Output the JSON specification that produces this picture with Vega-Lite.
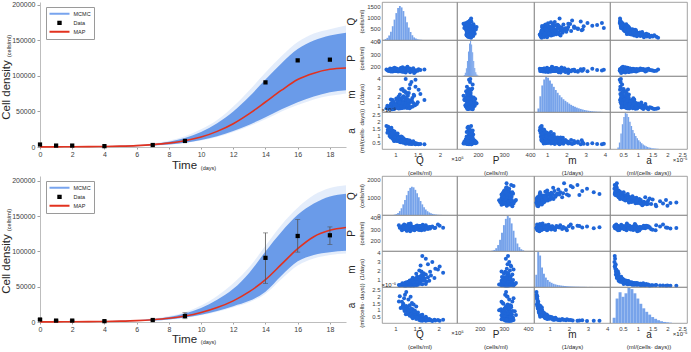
{
"$schema": "https://vega.github.io/schema/vega-lite/v6.json",
"padding": 0,
"background": "white",
"spacing": -1,
"config": {
  "font": "Liberation Sans",
  "view": {"stroke": "#8a8a8a", "strokeWidth": 0.8},
  "axis": {"labelFont": "Liberation Sans", "titleFont": "Liberation Sans", "labelColor": "#404040", "titleColor": "#262626", "titleFontWeight": "normal", "grid": false, "labelFlush": false, "labelOverlap": false},
  "legend": {"labelFont": "Liberation Sans"},
  "circle": {"size": 16, "color": "#1f66d8", "opacity": 1}
},
"resolve": {"scale": {"color": "independent", "shape": "independent", "x": "independent", "y": "independent"}, "legend": {"color": "independent", "shape": "independent"}},
"datasets": {
  "keys": [{"s": "MCMC"}, {"s": "Data"}, {"s": "MAP"}],
  "obs": [
    {"t": 0, "y": 3500, "lo": 2500, "hi": 4500},
    {"t": 1, "y": 2000, "lo": 1300, "hi": 2700},
    {"t": 2, "y": 2000, "lo": 1300, "hi": 2700},
    {"t": 4, "y": 1200, "lo": 700, "hi": 1700},
    {"t": 7, "y": 2800, "lo": 2000, "hi": 3600},
    {"t": 9, "y": 8500, "lo": 4700, "hi": 13200},
    {"t": 14, "y": 91000, "lo": 54800, "hi": 126400},
    {"t": 16, "y": 122000, "lo": 99100, "hi": 145400},
    {"t": 18, "y": 123000, "lo": 110000, "hi": 134900}
  ],
  "map1": [
    {"t": 0, "y": 150}, {"t": 1, "y": 220}, {"t": 2, "y": 330}, {"t": 3, "y": 500}, {"t": 4, "y": 780},
    {"t": 5, "y": 1250}, {"t": 6, "y": 2000}, {"t": 7, "y": 3300}, {"t": 8, "y": 5400}, {"t": 9, "y": 8800},
    {"t": 10, "y": 14000}, {"t": 11, "y": 22000}, {"t": 12, "y": 32800}, {"t": 13, "y": 47000}, {"t": 14, "y": 63400},
    {"t": 15, "y": 80000}, {"t": 16, "y": 95000}, {"t": 17, "y": 104000}, {"t": 18, "y": 109400}, {"t": 19, "y": 111300}
  ],
  "map2": [
    {"t": 0, "y": 150}, {"t": 1, "y": 220}, {"t": 2, "y": 330}, {"t": 3, "y": 500}, {"t": 4, "y": 780},
    {"t": 5, "y": 1250}, {"t": 6, "y": 2000}, {"t": 7, "y": 3300}, {"t": 8, "y": 5300}, {"t": 9, "y": 8500},
    {"t": 10, "y": 13500}, {"t": 11, "y": 20500}, {"t": 12, "y": 30000}, {"t": 13, "y": 43000}, {"t": 14, "y": 60000},
    {"t": 15, "y": 82000}, {"t": 16, "y": 104000}, {"t": 17, "y": 121000}, {"t": 18, "y": 130000}, {"t": 19, "y": 134000}
  ],
  "band1": [
    {"t": 0, "lo": 0, "hi": 400, "lo2": 0, "hi2": 500},
    {"t": 1, "lo": 80, "hi": 550, "lo2": 60, "hi2": 650},
    {"t": 2, "lo": 150, "hi": 700, "lo2": 120, "hi2": 800},
    {"t": 3, "lo": 300, "hi": 900, "lo2": 250, "hi2": 1050},
    {"t": 4, "lo": 450, "hi": 1200, "lo2": 400, "hi2": 1400},
    {"t": 5, "lo": 750, "hi": 1700, "lo2": 650, "hi2": 2000},
    {"t": 6, "lo": 1200, "hi": 2600, "lo2": 1100, "hi2": 3000},
    {"t": 7, "lo": 2000, "hi": 4300, "lo2": 1800, "hi2": 5000},
    {"t": 8, "lo": 3500, "hi": 7500, "lo2": 3200, "hi2": 8800},
    {"t": 9, "lo": 6000, "hi": 12500, "lo2": 5500, "hi2": 15000},
    {"t": 10, "lo": 9800, "hi": 21000, "lo2": 9000, "hi2": 25000},
    {"t": 11, "lo": 15000, "hi": 33500, "lo2": 14000, "hi2": 38000},
    {"t": 12, "lo": 22500, "hi": 50000, "lo2": 21000, "hi2": 57000},
    {"t": 13, "lo": 31500, "hi": 71000, "lo2": 29500, "hi2": 80000},
    {"t": 14, "lo": 42000, "hi": 95000, "lo2": 39000, "hi2": 105000},
    {"t": 15, "lo": 53000, "hi": 118000, "lo2": 50000, "hi2": 128000},
    {"t": 16, "lo": 63000, "hi": 138000, "lo2": 59000, "hi2": 148000},
    {"t": 17, "lo": 71000, "hi": 150000, "lo2": 67000, "hi2": 160000},
    {"t": 18, "lo": 77000, "hi": 157000, "lo2": 72000, "hi2": 166000},
    {"t": 19, "lo": 80000, "hi": 161000, "lo2": 75500, "hi2": 171000}
  ],
  "band2": [
    {"t": 0, "lo": 0, "hi": 400, "lo2": 0, "hi2": 500},
    {"t": 1, "lo": 80, "hi": 550, "lo2": 60, "hi2": 650},
    {"t": 2, "lo": 150, "hi": 700, "lo2": 120, "hi2": 800},
    {"t": 3, "lo": 300, "hi": 900, "lo2": 250, "hi2": 1050},
    {"t": 4, "lo": 450, "hi": 1200, "lo2": 400, "hi2": 1400},
    {"t": 5, "lo": 750, "hi": 1700, "lo2": 650, "hi2": 2000},
    {"t": 6, "lo": 1250, "hi": 2600, "lo2": 1100, "hi2": 3000},
    {"t": 7, "lo": 2100, "hi": 4300, "lo2": 1900, "hi2": 5000},
    {"t": 8, "lo": 3700, "hi": 7200, "lo2": 3300, "hi2": 8500},
    {"t": 9, "lo": 6300, "hi": 12000, "lo2": 5800, "hi2": 14000},
    {"t": 10, "lo": 10200, "hi": 20000, "lo2": 9500, "hi2": 23500},
    {"t": 11, "lo": 15500, "hi": 31500, "lo2": 14500, "hi2": 37000},
    {"t": 12, "lo": 22500, "hi": 47000, "lo2": 21000, "hi2": 55000},
    {"t": 13, "lo": 30000, "hi": 70000, "lo2": 28000, "hi2": 78000},
    {"t": 14, "lo": 43000, "hi": 100000, "lo2": 40000, "hi2": 108000},
    {"t": 15, "lo": 66000, "hi": 128000, "lo2": 61000, "hi2": 138000},
    {"t": 16, "lo": 86000, "hi": 152000, "lo2": 80000, "hi2": 162000},
    {"t": 17, "lo": 95000, "hi": 168000, "lo2": 90000, "hi2": 180000},
    {"t": 18, "lo": 99000, "hi": 178000, "lo2": 95000, "hi2": 190000},
    {"t": 19, "lo": 101000, "hi": 182000, "lo2": 97000, "hi2": 194000}
  ],
  "s1": [
    {"Q":1.38,"P":165,"m":1.85,"a":0.42},{"Q":1.30,"P":172,"m":2.40,"a":0.45},{"Q":1.45,"P":158,"m":3.10,"a":0.40},{"Q":1.25,"P":181,"m":1.30,"a":0.48},
    {"Q":1.22,"P":169,"m":1.10,"a":0.52},{"Q":1.52,"P":175,"m":2.75,"a":0.39},{"Q":1.33,"P":150,"m":1.60,"a":0.44},{"Q":1.18,"P":163,"m":2.05,"a":0.50},
    {"Q":1.28,"P":177,"m":0.95,"a":0.47},{"Q":1.36,"P":170,"m":3.60,"a":0.41},{"Q":1.12,"P":186,"m":1.45,"a":0.53},{"Q":1.41,"P":161,"m":2.20,"a":0.46},
    {"Q":1.48,"P":167,"m":1.20,"a":0.43},{"Q":1.21,"P":155,"m":2.60,"a":0.49},{"Q":1.35,"P":173,"m":0.88,"a":0.51},{"Q":1.45,"P":166,"m":3.85,"a":0.38},
    {"Q":1.26,"P":190,"m":1.75,"a":0.45},{"Q":1.15,"P":160,"m":1.35,"a":0.54},{"Q":1.31,"P":178,"m":2.90,"a":0.42},{"Q":1.44,"P":152,"m":1.05,"a":0.48},
    {"Q":1.56,"P":169,"m":2.30,"a":0.40},{"Q":1.19,"P":184,"m":1.90,"a":0.52},{"Q":1.37,"P":164,"m":1.55,"a":0.47},{"Q":1.29,"P":171,"m":0.82,"a":0.44},
    {"Q":1.24,"P":158,"m":2.45,"a":0.50},{"Q":1.10,"P":176,"m":1.15,"a":0.55},{"Q":1.50,"P":162,"m":1.40,"a":0.41},{"Q":1.33,"P":180,"m":3.35,"a":0.46},
    {"Q":1.20,"P":168,"m":0.98,"a":0.53},{"Q":1.42,"P":145,"m":2.10,"a":0.43},{"Q":1.65,"P":174,"m":1.65,"a":0.39},{"Q":1.27,"P":195,"m":1.25,"a":0.49},
    {"Q":1.16,"P":166,"m":2.85,"a":0.51},{"Q":1.39,"P":159,"m":0.92,"a":0.45},{"Q":1.23,"P":171,"m":3.95,"a":0.42},{"Q":1.13,"P":163,"m":1.70,"a":0.54},
    {"Q":1.18,"P":170,"m":1.20,"a":0.58},{"Q":1.08,"P":165,"m":0.95,"a":0.62},{"Q":1.22,"P":178,"m":1.55,"a":0.60},{"Q":1.14,"P":158,"m":1.05,"a":0.65},
    {"Q":1.28,"P":173,"m":2.10,"a":0.57},{"Q":1.05,"P":167,"m":0.85,"a":0.68},{"Q":1.31,"P":182,"m":1.35,"a":0.63},{"Q":1.11,"P":161,"m":1.10,"a":0.70},
    {"Q":1.20,"P":176,"m":0.78,"a":0.59},{"Q":1.02,"P":169,"m":1.80,"a":0.66},{"Q":1.16,"P":154,"m":0.92,"a":0.72},{"Q":1.24,"P":171,"m":2.40,"a":0.61},
    {"Q":0.98,"P":188,"m":1.00,"a":0.64},{"Q":1.09,"P":164,"m":1.25,"a":0.75},{"Q":1.35,"P":160,"m":1.45,"a":0.56},{"Q":1.26,"P":175,"m":0.75,"a":0.69},
    {"Q":1.04,"P":168,"m":1.60,"a":0.73},{"Q":1.12,"P":179,"m":0.88,"a":0.58},{"Q":1.19,"P":157,"m":1.15,"a":0.67},{"Q":1.07,"P":172,"m":2.00,"a":0.62},
    {"Q":1.01,"P":166,"m":0.98,"a":0.78},{"Q":1.40,"P":183,"m":1.30,"a":0.60},{"Q":0.96,"P":162,"m":1.40,"a":0.71},{"Q":1.15,"P":170,"m":0.80,"a":0.65},
    {"Q":1.23,"P":148,"m":1.70,"a":0.57},{"Q":1.13,"P":177,"m":1.08,"a":0.74},{"Q":1.06,"P":165,"m":0.72,"a":0.63},{"Q":1.10,"P":159,"m":2.25,"a":0.69},
    {"Q":0.99,"P":174,"m":0.90,"a":0.76},{"Q":1.30,"P":167,"m":1.12,"a":0.59},{"Q":1.17,"P":185,"m":1.50,"a":0.66},{"Q":1.03,"P":163,"m":0.84,"a":0.61},
    {"Q":1.21,"P":171,"m":1.22,"a":0.72},{"Q":0.94,"P":156,"m":1.65,"a":0.79},{"Q":1.25,"P":180,"m":0.96,"a":0.56},{"Q":1.14,"P":168,"m":1.85,"a":0.64},
    {"Q":1.08,"P":173,"m":0.70,"a":0.70},{"Q":1.19,"P":161,"m":2.60,"a":0.58},{"Q":1.27,"P":176,"m":1.02,"a":0.67},{"Q":1.05,"P":164,"m":1.32,"a":0.77},
    {"Q":0.97,"P":170,"m":1.18,"a":0.62},{"Q":1.22,"P":153,"m":1.95,"a":0.68},{"Q":1.12,"P":179,"m":0.82,"a":0.74},{"Q":1.09,"P":166,"m":1.42,"a":0.60},
    {"Q":1.32,"P":172,"m":0.74,"a":0.65},{"Q":1.00,"P":160,"m":1.05,"a":0.71},{"Q":1.16,"P":192,"m":1.28,"a":0.57},{"Q":1.07,"P":169,"m":1.12,"a":0.80},
    {"Q":1.29,"P":175,"m":1.62,"a":0.63},{"Q":1.11,"P":158,"m":0.94,"a":0.69},{"Q":0.95,"P":167,"m":1.48,"a":0.75},{"Q":1.20,"P":174,"m":1.00,"a":0.59},
    {"Q":1.13,"P":163,"m":2.80,"a":0.66},{"Q":1.02,"P":181,"m":1.20,"a":0.73},
    {"Q":1.02,"P":168,"m":1.00,"a":0.84},{"Q":0.96,"P":175,"m":0.80,"a":0.88},{"Q":1.08,"P":161,"m":1.30,"a":0.92},{"Q":1.12,"P":170,"m":0.72,"a":0.82},
    {"Q":0.92,"P":178,"m":1.10,"a":0.95},{"Q":1.04,"P":163,"m":1.55,"a":0.86},{"Q":0.99,"P":172,"m":0.88,"a":0.99},{"Q":1.15,"P":159,"m":0.76,"a":0.90},
    {"Q":0.94,"P":180,"m":1.20,"a":0.83},{"Q":1.01,"P":166,"m":0.95,"a":1.02},{"Q":0.90,"P":173,"m":1.70,"a":0.87},{"Q":1.06,"P":157,"m":0.82,"a":0.94},
    {"Q":0.97,"P":169,"m":1.05,"a":1.05},{"Q":1.18,"P":176,"m":0.92,"a":0.81},{"Q":0.93,"P":164,"m":0.70,"a":0.97},{"Q":1.10,"P":171,"m":1.40,"a":0.89},
    {"Q":0.88,"P":182,"m":0.85,"a":1.08},{"Q":1.00,"P":160,"m":1.12,"a":0.85},{"Q":1.13,"P":168,"m":0.98,"a":0.93},{"Q":0.91,"P":174,"m":1.25,"a":1.00},
    {"Q":0.98,"P":165,"m":0.68,"a":0.91},{"Q":1.03,"P":178,"m":1.00,"a":1.06},{"Q":1.07,"P":162,"m":1.82,"a":0.84},{"Q":0.87,"P":170,"m":0.78,"a":0.96},
    {"Q":0.95,"P":167,"m":1.15,"a":1.03},
    {"Q":0.92,"P":171,"m":0.80,"a":1.15},{"Q":0.88,"P":166,"m":0.95,"a":1.22},{"Q":1.00,"P":175,"m":1.10,"a":1.12},{"Q":0.85,"P":162,"m":0.72,"a":1.30},
    {"Q":0.96,"P":178,"m":0.66,"a":1.18},{"Q":0.83,"P":169,"m":0.85,"a":1.40},{"Q":0.90,"P":157,"m":1.20,"a":1.25},{"Q":1.05,"P":173,"m":0.75,"a":1.14},
    {"Q":0.86,"P":165,"m":0.70,"a":1.50},{"Q":0.94,"P":180,"m":0.62,"a":1.35},{"Q":0.82,"P":170,"m":1.00,"a":1.20},{"Q":0.84,"P":163,"m":0.68,"a":1.62},
    {"Q":0.98,"P":176,"m":0.88,"a":1.28},{"Q":0.89,"P":168,"m":0.78,"a":1.45},{"Q":0.93,"P":172,"m":1.35,"a":1.11},{"Q":0.91,"P":160,"m":0.64,"a":1.55},
    {"Q":0.80,"P":174,"m":0.72,"a":1.68}
  ],
  "s2": [
    {"Q":1.22,"P":305,"m":0.32,"a":2.10},{"Q":1.30,"P":322,"m":0.35,"a":1.75},{"Q":1.18,"P":298,"m":0.38,"a":1.45},{"Q":1.35,"P":315,"m":0.33,"a":1.95},
    {"Q":1.28,"P":330,"m":0.40,"a":1.20},{"Q":1.15,"P":290,"m":0.36,"a":1.60},{"Q":1.40,"P":318,"m":0.42,"a":1.05},{"Q":1.25,"P":309,"m":0.31,"a":2.30},
    {"Q":1.33,"P":326,"m":0.39,"a":1.35},{"Q":1.45,"P":301,"m":0.44,"a":0.95},{"Q":1.20,"P":340,"m":0.34,"a":1.85},{"Q":1.12,"P":312,"m":0.41,"a":1.15},
    {"Q":1.38,"P":295,"m":0.37,"a":1.50},{"Q":1.30,"P":320,"m":0.43,"a":0.88},{"Q":1.48,"P":308,"m":0.36,"a":1.25},{"Q":1.08,"P":335,"m":0.40,"a":1.62},
    {"Q":1.26,"P":285,"m":0.45,"a":1.00},{"Q":1.42,"P":316,"m":0.33,"a":1.40},{"Q":1.36,"P":303,"m":0.38,"a":1.10},{"Q":1.17,"P":328,"m":0.42,"a":1.30},
    {"Q":1.10,"P":312,"m":0.35,"a":2.00},{"Q":1.52,"P":297,"m":0.44,"a":0.82},
    {"Q":1.24,"P":310,"m":0.48,"a":1.20},{"Q":1.35,"P":325,"m":0.52,"a":0.95},{"Q":1.42,"P":300,"m":0.47,"a":0.78},{"Q":1.28,"P":318,"m":0.55,"a":1.10},
    {"Q":1.50,"P":332,"m":0.50,"a":0.70},{"Q":1.33,"P":292,"m":0.58,"a":0.85},{"Q":1.19,"P":314,"m":0.46,"a":1.35},{"Q":1.46,"P":306,"m":0.62,"a":0.75},
    {"Q":1.58,"P":321,"m":0.53,"a":0.62},{"Q":1.30,"P":345,"m":0.49,"a":0.90},{"Q":1.22,"P":298,"m":0.60,"a":1.00},{"Q":1.40,"P":311,"m":0.56,"a":0.68},
    {"Q":1.36,"P":327,"m":0.66,"a":0.72},{"Q":1.27,"P":288,"m":0.51,"a":1.05},{"Q":1.48,"P":319,"m":0.47,"a":0.80},{"Q":1.55,"P":304,"m":0.64,"a":0.58},
    {"Q":1.21,"P":336,"m":0.57,"a":0.92},{"Q":1.43,"P":313,"m":0.69,"a":0.65},{"Q":1.32,"P":296,"m":0.54,"a":0.76},{"Q":1.16,"P":323,"m":0.59,"a":1.18},
    {"Q":1.62,"P":309,"m":0.48,"a":0.66},{"Q":1.38,"P":317,"m":0.62,"a":0.88},{"Q":1.50,"P":302,"m":0.67,"a":0.55},{"Q":1.25,"P":330,"m":0.52,"a":1.28},
    {"Q":1.45,"P":315,"m":0.58,"a":0.60},{"Q":1.34,"P":280,"m":0.46,"a":0.98},{"Q":1.29,"P":322,"m":0.65,"a":0.82},{"Q":1.37,"P":308,"m":0.55,"a":0.73},
    {"Q":1.70,"P":326,"m":0.50,"a":0.52},{"Q":1.31,"P":299,"m":0.61,"a":0.95},{"Q":1.24,"P":318,"m":0.68,"a":0.70},{"Q":1.44,"P":311,"m":0.49,"a":0.86},
    {"Q":1.35,"P":350,"m":0.63,"a":0.63},{"Q":1.20,"P":305,"m":0.53,"a":1.08},
    {"Q":1.42,"P":312,"m":0.72,"a":0.60},{"Q":1.55,"P":325,"m":0.78,"a":0.48},{"Q":1.38,"P":300,"m":0.85,"a":0.55},{"Q":1.30,"P":318,"m":0.75,"a":0.70},
    {"Q":1.60,"P":307,"m":0.92,"a":0.42},{"Q":1.35,"P":333,"m":0.80,"a":0.65},{"Q":1.66,"P":295,"m":0.88,"a":0.38},{"Q":1.47,"P":320,"m":0.74,"a":0.52},
    {"Q":1.40,"P":309,"m":0.96,"a":0.50},{"Q":1.52,"P":314,"m":0.82,"a":0.45},{"Q":1.27,"P":302,"m":0.71,"a":0.78},{"Q":1.33,"P":328,"m":0.90,"a":0.58},
    {"Q":1.72,"P":311,"m":0.77,"a":0.40},{"Q":1.44,"P":290,"m":0.86,"a":0.62},{"Q":1.58,"P":323,"m":0.98,"a":0.36},{"Q":1.49,"P":316,"m":0.73,"a":0.46},
    {"Q":1.36,"P":305,"m":0.84,"a":0.68},{"Q":1.63,"P":338,"m":0.94,"a":0.44},{"Q":1.41,"P":298,"m":0.79,"a":0.55},{"Q":1.78,"P":319,"m":0.87,"a":0.35},
    {"Q":1.52,"P":310,"m":1.05,"a":0.42},{"Q":1.62,"P":322,"m":1.15,"a":0.35},{"Q":1.75,"P":300,"m":1.25,"a":0.30},{"Q":1.45,"P":315,"m":1.10,"a":0.48},
    {"Q":1.58,"P":328,"m":1.35,"a":0.33},{"Q":1.40,"P":306,"m":1.20,"a":0.40},{"Q":1.82,"P":318,"m":1.45,"a":0.28},{"Q":1.68,"P":297,"m":1.08,"a":0.38},
    {"Q":1.50,"P":312,"m":1.30,"a":0.44},{"Q":1.70,"P":335,"m":1.55,"a":0.26},{"Q":1.38,"P":303,"m":1.02,"a":0.52},{"Q":1.64,"P":320,"m":1.40,"a":0.32},
    {"Q":1.90,"P":309,"m":1.18,"a":0.29},{"Q":1.55,"P":292,"m":1.28,"a":0.37},{"Q":1.47,"P":326,"m":1.12,"a":0.45},{"Q":1.60,"P":314,"m":1.50,"a":0.31},
    {"Q":1.65,"P":318,"m":1.70,"a":0.30},{"Q":1.80,"P":305,"m":1.85,"a":0.26},{"Q":1.55,"P":325,"m":2.00,"a":0.28},{"Q":1.92,"P":312,"m":2.20,"a":0.24},
    {"Q":1.48,"P":300,"m":1.65,"a":0.35},{"Q":2.02,"P":330,"m":2.45,"a":0.22},{"Q":1.75,"P":315,"m":2.70,"a":0.25},{"Q":1.60,"P":290,"m":1.90,"a":0.33},
    {"Q":1.85,"P":322,"m":2.95,"a":0.21},{"Q":1.70,"P":308,"m":3.30,"a":0.23},{"Q":1.98,"P":340,"m":2.10,"a":0.27},{"Q":1.62,"P":317,"m":3.60,"a":0.22},
    {"Q":2.10,"P":311,"m":1.75,"a":0.29},{"Q":1.58,"P":328,"m":2.55,"a":0.24}
  ],
  "h1": [
    {"v":"Q","b0":0.76,"b1":0.80,"c":40},{"v":"Q","b0":0.80,"b1":0.84,"c":95},{"v":"Q","b0":0.84,"b1":0.88,"c":200},{"v":"Q","b0":0.88,"b1":0.92,"c":370},
    {"v":"Q","b0":0.92,"b1":0.96,"c":610},{"v":"Q","b0":0.96,"b1":1.00,"c":900},{"v":"Q","b0":1.00,"b1":1.04,"c":1190},{"v":"Q","b0":1.04,"b1":1.08,"c":1410},
    {"v":"Q","b0":1.08,"b1":1.12,"c":1500},{"v":"Q","b0":1.12,"b1":1.16,"c":1440},{"v":"Q","b0":1.16,"b1":1.20,"c":1280},{"v":"Q","b0":1.20,"b1":1.24,"c":1040},
    {"v":"Q","b0":1.24,"b1":1.28,"c":790},{"v":"Q","b0":1.28,"b1":1.32,"c":550},{"v":"Q","b0":1.32,"b1":1.36,"c":355},{"v":"Q","b0":1.36,"b1":1.40,"c":210},
    {"v":"Q","b0":1.40,"b1":1.44,"c":115},{"v":"Q","b0":1.44,"b1":1.48,"c":62},{"v":"Q","b0":1.48,"b1":1.52,"c":32},{"v":"Q","b0":1.52,"b1":1.56,"c":16},
    {"v":"Q","b0":1.56,"b1":1.60,"c":8},{"v":"Q","b0":1.60,"b1":1.64,"c":4},
    {"v":"P","b0":146,"b1":150,"c":30},{"v":"P","b0":150,"b1":154,"c":90},{"v":"P","b0":154,"b1":158,"c":220},{"v":"P","b0":158,"b1":162,"c":430},
    {"v":"P","b0":162,"b1":166,"c":700},{"v":"P","b0":166,"b1":170,"c":930},{"v":"P","b0":170,"b1":174,"c":1000},{"v":"P","b0":174,"b1":178,"c":900},
    {"v":"P","b0":178,"b1":182,"c":680},{"v":"P","b0":182,"b1":186,"c":430},{"v":"P","b0":186,"b1":190,"c":230},{"v":"P","b0":190,"b1":194,"c":110},
    {"v":"P","b0":194,"b1":198,"c":45},{"v":"P","b0":198,"b1":202,"c":15},
    {"v":"m","b0":0.5,"b1":0.6,"c":100},{"v":"m","b0":0.6,"b1":0.7,"c":450},{"v":"m","b0":0.7,"b1":0.8,"c":760},{"v":"m","b0":0.8,"b1":0.9,"c":930},
    {"v":"m","b0":0.9,"b1":1.0,"c":1000},{"v":"m","b0":1.0,"b1":1.1,"c":980},{"v":"m","b0":1.1,"b1":1.2,"c":900},{"v":"m","b0":1.2,"b1":1.3,"c":810},
    {"v":"m","b0":1.3,"b1":1.4,"c":720},{"v":"m","b0":1.4,"b1":1.5,"c":630},{"v":"m","b0":1.5,"b1":1.6,"c":550},{"v":"m","b0":1.6,"b1":1.7,"c":480},
    {"v":"m","b0":1.7,"b1":1.8,"c":420},{"v":"m","b0":1.8,"b1":1.9,"c":365},{"v":"m","b0":1.9,"b1":2.0,"c":320},{"v":"m","b0":2.0,"b1":2.1,"c":280},
    {"v":"m","b0":2.1,"b1":2.2,"c":240},{"v":"m","b0":2.2,"b1":2.3,"c":205},{"v":"m","b0":2.3,"b1":2.4,"c":175},{"v":"m","b0":2.4,"b1":2.5,"c":150},
    {"v":"m","b0":2.5,"b1":2.6,"c":125},{"v":"m","b0":2.6,"b1":2.7,"c":105},{"v":"m","b0":2.7,"b1":2.8,"c":88},{"v":"m","b0":2.8,"b1":2.9,"c":72},
    {"v":"m","b0":2.9,"b1":3.0,"c":58},{"v":"m","b0":3.0,"b1":3.1,"c":46},{"v":"m","b0":3.1,"b1":3.2,"c":36},{"v":"m","b0":3.2,"b1":3.3,"c":28},
    {"v":"m","b0":3.3,"b1":3.4,"c":21},{"v":"m","b0":3.4,"b1":3.5,"c":15},{"v":"m","b0":3.5,"b1":3.6,"c":11},{"v":"m","b0":3.6,"b1":3.7,"c":8},
    {"v":"m","b0":3.7,"b1":3.8,"c":5},{"v":"m","b0":3.8,"b1":3.9,"c":3},
    {"v":"a","b0":0.30,"b1":0.35,"c":40},{"v":"a","b0":0.35,"b1":0.40,"c":180},{"v":"a","b0":0.40,"b1":0.45,"c":430},{"v":"a","b0":0.45,"b1":0.50,"c":690},
    {"v":"a","b0":0.50,"b1":0.55,"c":890},{"v":"a","b0":0.55,"b1":0.60,"c":1000},{"v":"a","b0":0.60,"b1":0.65,"c":980},{"v":"a","b0":0.65,"b1":0.70,"c":890},
    {"v":"a","b0":0.70,"b1":0.75,"c":760},{"v":"a","b0":0.75,"b1":0.80,"c":640},{"v":"a","b0":0.80,"b1":0.85,"c":530},{"v":"a","b0":0.85,"b1":0.90,"c":440},
    {"v":"a","b0":0.90,"b1":0.95,"c":360},{"v":"a","b0":0.95,"b1":1.00,"c":300},{"v":"a","b0":1.00,"b1":1.05,"c":245},{"v":"a","b0":1.05,"b1":1.10,"c":200},
    {"v":"a","b0":1.10,"b1":1.15,"c":160},{"v":"a","b0":1.15,"b1":1.20,"c":125},{"v":"a","b0":1.20,"b1":1.25,"c":98},{"v":"a","b0":1.25,"b1":1.30,"c":76},
    {"v":"a","b0":1.30,"b1":1.35,"c":58},{"v":"a","b0":1.35,"b1":1.40,"c":44},{"v":"a","b0":1.40,"b1":1.45,"c":33},{"v":"a","b0":1.45,"b1":1.50,"c":24},
    {"v":"a","b0":1.50,"b1":1.55,"c":17},{"v":"a","b0":1.55,"b1":1.60,"c":12},{"v":"a","b0":1.60,"b1":1.65,"c":8},{"v":"a","b0":1.65,"b1":1.70,"c":5}
  ],
  "h2": [
    {"v":"Q","b0":0.96,"b1":1.00,"c":20},{"v":"Q","b0":1.00,"b1":1.04,"c":50},{"v":"Q","b0":1.04,"b1":1.08,"c":110},{"v":"Q","b0":1.08,"b1":1.12,"c":220},
    {"v":"Q","b0":1.12,"b1":1.16,"c":380},{"v":"Q","b0":1.16,"b1":1.20,"c":600},{"v":"Q","b0":1.20,"b1":1.24,"c":850},{"v":"Q","b0":1.24,"b1":1.28,"c":1120},
    {"v":"Q","b0":1.28,"b1":1.32,"c":1360},{"v":"Q","b0":1.32,"b1":1.36,"c":1530},{"v":"Q","b0":1.36,"b1":1.40,"c":1600},{"v":"Q","b0":1.40,"b1":1.44,"c":1560},
    {"v":"Q","b0":1.44,"b1":1.48,"c":1420},{"v":"Q","b0":1.48,"b1":1.52,"c":1220},{"v":"Q","b0":1.52,"b1":1.56,"c":1000},{"v":"Q","b0":1.56,"b1":1.60,"c":790},
    {"v":"Q","b0":1.60,"b1":1.64,"c":600},{"v":"Q","b0":1.64,"b1":1.68,"c":440},{"v":"Q","b0":1.68,"b1":1.72,"c":310},{"v":"Q","b0":1.72,"b1":1.76,"c":215},
    {"v":"Q","b0":1.76,"b1":1.80,"c":145},{"v":"Q","b0":1.80,"b1":1.84,"c":95},{"v":"Q","b0":1.84,"b1":1.88,"c":62},{"v":"Q","b0":1.88,"b1":1.92,"c":40},
    {"v":"Q","b0":1.92,"b1":1.96,"c":25},{"v":"Q","b0":1.96,"b1":2.00,"c":15},{"v":"Q","b0":2.00,"b1":2.04,"c":9},{"v":"Q","b0":2.04,"b1":2.08,"c":5},
    {"v":"Q","b0":2.08,"b1":2.12,"c":3},
    {"v":"P","b0":248,"b1":256,"c":10},{"v":"P","b0":256,"b1":264,"c":30},{"v":"P","b0":264,"b1":272,"c":80},{"v":"P","b0":272,"b1":280,"c":170},
    {"v":"P","b0":280,"b1":288,"c":320},{"v":"P","b0":288,"b1":296,"c":520},{"v":"P","b0":296,"b1":304,"c":740},{"v":"P","b0":304,"b1":312,"c":920},
    {"v":"P","b0":312,"b1":320,"c":1000},{"v":"P","b0":320,"b1":328,"c":950},{"v":"P","b0":328,"b1":336,"c":790},{"v":"P","b0":336,"b1":344,"c":580},
    {"v":"P","b0":344,"b1":352,"c":380},{"v":"P","b0":352,"b1":360,"c":215},{"v":"P","b0":360,"b1":368,"c":110},{"v":"P","b0":368,"b1":376,"c":50},
    {"v":"P","b0":376,"b1":384,"c":20},
    {"v":"m","b0":0.25,"b1":0.35,"c":350},{"v":"m","b0":0.35,"b1":0.45,"c":1000},{"v":"m","b0":0.45,"b1":0.55,"c":900},{"v":"m","b0":0.55,"b1":0.65,"c":560},
    {"v":"m","b0":0.65,"b1":0.75,"c":380},{"v":"m","b0":0.75,"b1":0.85,"c":270},{"v":"m","b0":0.85,"b1":0.95,"c":200},{"v":"m","b0":0.95,"b1":1.05,"c":150},
    {"v":"m","b0":1.05,"b1":1.15,"c":120},{"v":"m","b0":1.15,"b1":1.25,"c":92},{"v":"m","b0":1.25,"b1":1.35,"c":75},{"v":"m","b0":1.35,"b1":1.45,"c":60},
    {"v":"m","b0":1.45,"b1":1.55,"c":50},{"v":"m","b0":1.55,"b1":1.65,"c":41},{"v":"m","b0":1.65,"b1":1.75,"c":34},{"v":"m","b0":1.75,"b1":1.85,"c":28},
    {"v":"m","b0":1.85,"b1":1.95,"c":23},{"v":"m","b0":1.95,"b1":2.05,"c":19},{"v":"m","b0":2.05,"b1":2.15,"c":16},{"v":"m","b0":2.15,"b1":2.25,"c":13},
    {"v":"m","b0":2.25,"b1":2.35,"c":11},{"v":"m","b0":2.35,"b1":2.45,"c":9},{"v":"m","b0":2.45,"b1":2.55,"c":8},{"v":"m","b0":2.55,"b1":2.65,"c":6},
    {"v":"m","b0":2.65,"b1":2.75,"c":5},{"v":"m","b0":2.75,"b1":2.85,"c":4},{"v":"m","b0":2.85,"b1":2.95,"c":3},{"v":"m","b0":2.95,"b1":3.05,"c":3},
    {"v":"m","b0":3.05,"b1":3.15,"c":2},{"v":"m","b0":3.15,"b1":3.25,"c":2},
    {"v":"a","b0":0.15,"b1":0.25,"c":150},{"v":"a","b0":0.25,"b1":0.35,"c":700},{"v":"a","b0":0.35,"b1":0.45,"c":880},{"v":"a","b0":0.45,"b1":0.55,"c":750},
    {"v":"a","b0":0.55,"b1":0.65,"c":850},{"v":"a","b0":0.65,"b1":0.75,"c":1000},{"v":"a","b0":0.75,"b1":0.85,"c":970},{"v":"a","b0":0.85,"b1":0.95,"c":850},
    {"v":"a","b0":0.95,"b1":1.05,"c":700},{"v":"a","b0":1.05,"b1":1.15,"c":550},{"v":"a","b0":1.15,"b1":1.25,"c":420},{"v":"a","b0":1.25,"b1":1.35,"c":320},
    {"v":"a","b0":1.35,"b1":1.45,"c":240},{"v":"a","b0":1.45,"b1":1.55,"c":170},{"v":"a","b0":1.55,"b1":1.65,"c":120},{"v":"a","b0":1.65,"b1":1.75,"c":80},
    {"v":"a","b0":1.75,"b1":1.85,"c":50},{"v":"a","b0":1.85,"b1":1.95,"c":30},{"v":"a","b0":1.95,"b1":2.05,"c":20},{"v":"a","b0":2.05,"b1":2.15,"c":10}
  ]
},
"vconcat": [
 {
  "spacing": -5,
  "resolve": {"scale": {"color": "independent", "shape": "independent", "x": "independent", "y": "independent"}, "legend": {"color": "independent", "shape": "independent"}},
  "hconcat": [
   {
    "width": 306, "height": 145,
    "view": {"stroke": null},
    "resolve": {"axis": {"x": "independent", "y": "independent"}},
    "layer": [
     {"data": {"name": "band1"}, "mark": {"type": "area", "color": "#c3d6f6", "opacity": 0.45, "interpolate": "monotone"},
      "encoding": {
       "x": {"field": "t", "type": "quantitative", "scale": {"domain": [0, 19], "nice": false, "zero": false},
             "axis": {"values": [0,2,4,6,8,10,12,14,16,18], "format": "d", "labelFontSize": 7, "tickSize": 2, "tickColor": "#a0a0a0", "domainColor": "#bdbdbd", "labelPadding": 1, "title": "Time", "titleFontSize": 11.5, "titleBaseline": "middle", "titleX": 144, "titleY": 18.5}},
       "y": {"field": "lo2", "type": "quantitative", "scale": {"domain": [0, 204200], "nice": false},
             "axis": {"values": [0,50000,100000,150000,200000], "format": "d", "labelFontSize": 7, "tickSize": 3, "tickColor": "#a0a0a0", "domainColor": "#bdbdbd", "labelPadding": 2, "title": "Cell density", "titleFontSize": 11.5, "titleBaseline": "middle", "titleX": -34, "titleY": 87.5}},
       "y2": {"field": "hi2"}}},
     {"data": {"name": "band1"}, "mark": {"type": "area", "color": "#6a9be9", "interpolate": "monotone", "opacity": 1},
      "encoding": {
       "x": {"field": "t", "type": "quantitative", "scale": {"domain": [0, 19], "nice": false, "zero": false},
             "axis": {"orient": "bottom", "labels": false, "ticks": false, "domain": false, "title": "(days)", "titleFontSize": 5.5, "titleBaseline": "middle", "titleX": 168, "titleY": 20.5}},
       "y": {"field": "lo", "type": "quantitative", "scale": {"domain": [0, 204200], "nice": false},
             "axis": {"orient": "left", "labels": false, "ticks": false, "domain": false, "title": "(cells/ml)", "titleFontSize": 5.5, "titleBaseline": "middle", "titleX": -31.5, "titleY": 43.5}},
       "y2": {"field": "hi"}}},
     {"data": {"name": "map1"}, "mark": {"type": "line", "color": "#e2321f", "strokeWidth": 1.6, "interpolate": "monotone"},
      "encoding": {
       "x": {"field": "t", "type": "quantitative", "scale": {"domain": [0, 19], "nice": false, "zero": false}, "axis": null},
       "y": {"field": "y", "type": "quantitative", "scale": {"domain": [0, 204200], "nice": false}, "axis": null}}},
     {"data": {"name": "obs"}, "mark": {"type": "point", "shape": "square", "filled": true, "size": 18, "opacity": 1, "color": "#000000"},
      "encoding": {
       "x": {"field": "t", "type": "quantitative", "scale": {"domain": [0, 19], "nice": false, "zero": false}, "axis": null},
       "y": {"field": "y", "type": "quantitative", "scale": {"domain": [0, 204200], "nice": false}, "axis": null}}},
     {"data": {"name": "keys"}, "mark": {"type": "point", "filled": false, "opacity": 0, "strokeWidth": 2, "size": 400},
      "encoding": {
       "color": {"field": "s", "type": "nominal", "scale": {"domain": ["MCMC", "Data", "MAP"], "range": ["#78a4ee", "#000000", "#e2321f"]},
                 "legend": {"title": null, "orient": "none", "legendX": 6, "legendY": 5, "symbolSize": 400, "symbolStrokeWidth": 2, "symbolOpacity": 1,
                            "labelFontSize": 5.5, "labelColor": "#262626", "labelOffset": 3, "clipHeight": 8.7, "rowPadding": 0, "padding": 2.5,
                            "strokeColor": "#9a9a9a", "fillColor": "#ffffff"}},
       "shape": {"field": "s", "type": "nominal", "scale": {"domain": ["MCMC", "Data", "MAP"], "range": ["stroke", "M-0.12,-0.12H0.12V0.12H-0.12Z", "stroke"]},
                 "legend": {"title": null, "orient": "none", "legendX": 6, "legendY": 5, "symbolSize": 400, "symbolStrokeWidth": 2, "symbolOpacity": 1,
                            "labelFontSize": 5.5, "labelColor": "#262626", "labelOffset": 3, "clipHeight": 8.7, "rowPadding": 0, "padding": 2.5,
                            "strokeColor": "#9a9a9a", "fillColor": "#ffffff"}}}}
    ]
   },
   {
    "columns": 4, "bounds": "flush", "align": "each", "spacing": 0,
    "resolve": {"scale": {"x": "independent", "y": "independent"}},
    "concat": [
      {"width": 75, "height": 38, "data": {"name": "h1"}, "transform": [{"filter": "datum.v === 'Q'"}], "resolve": {"axis": {"y": "independent"}}, "layer": [
        {"mark": {"type": "rect", "color": "#77a3ea"}, "encoding": {"x": {"field": "b0", "type": "quantitative", "scale": {"domain": [0.7, 2.38], "nice": false, "zero": false}, "axis": null}, "x2": {"field": "b1"},
          "y": {"field": "c", "type": "quantitative", "scale": {"domain": [0, 1680], "nice": false}, "axis": {"orient": "left", "values": [0, 500, 1000, 1500], "format": "d", "labelFontSize": 6, "labelPadding": 2, "ticks": false, "domain": false, "title": "Q", "titleFontSize": 10, "titleBaseline": "middle", "titleX": -31, "titleY": 19}}, "y2": {"datum": 0}}},
        {"mark": {"type": "rect", "opacity": 0}, "encoding": {"x": {"field": "b0", "type": "quantitative", "scale": {"domain": [0.7, 2.38], "nice": false, "zero": false}, "axis": null}, "x2": {"field": "b1"},
          "y": {"field": "c", "type": "quantitative", "scale": {"domain": [0, 1680], "nice": false}, "axis": {"orient": "left", "labels": false, "ticks": false, "domain": false, "title": "(cells/ml)", "titleFontSize": 6, "titleBaseline": "middle", "titleX": -20.5, "titleY": 19}}, "y2": {"datum": 0}}}
      ]},
      {"width": 77, "height": 38, "data": {"name": "s1"}, "mark": "circle", "encoding": {
        "x": {"field": "P", "type": "quantitative", "scale": {"domain": [120, 415], "nice": false, "zero": false}, "axis": null},
        "y": {"field": "Q", "type": "quantitative", "scale": {"domain": [0.7, 2.38], "nice": false, "zero": false}, "axis": null}}},
      {"width": 76, "height": 38, "data": {"name": "s1"}, "mark": "circle", "encoding": {
        "x": {"field": "m", "type": "quantitative", "scale": {"domain": [0.32, 4.27], "nice": false, "zero": false}, "axis": null},
        "y": {"field": "Q", "type": "quantitative", "scale": {"domain": [0.7, 2.38], "nice": false, "zero": false}, "axis": null}}},
      {"width": 77, "height": 38, "data": {"name": "s1"}, "mark": "circle", "encoding": {
        "x": {"field": "a", "type": "quantitative", "scale": {"domain": [0.05, 2.66], "nice": false, "zero": false}, "axis": null},
        "y": {"field": "Q", "type": "quantitative", "scale": {"domain": [0.7, 2.38], "nice": false, "zero": false}, "axis": null}}},

      {"width": 75, "height": 36, "data": {"name": "s1"}, "resolve": {"axis": {"y": "independent"}}, "layer": [
        {"mark": "circle", "encoding": {
          "x": {"field": "Q", "type": "quantitative", "scale": {"domain": [0.7, 2.38], "nice": false, "zero": false}, "axis": null},
          "y": {"field": "P", "type": "quantitative", "scale": {"domain": [120, 415], "nice": false, "zero": false}, "axis": {"orient": "left", "values": [200, 300, 400], "format": "d", "labelFontSize": 6, "labelPadding": 2, "ticks": false, "domain": false, "title": "P", "titleFontSize": 10, "titleBaseline": "middle", "titleX": -31, "titleY": 18}}}},
        {"mark": {"type": "circle", "opacity": 0}, "encoding": {
          "x": {"field": "Q", "type": "quantitative", "scale": {"domain": [0.7, 2.38], "nice": false, "zero": false}, "axis": null},
          "y": {"field": "P", "type": "quantitative", "scale": {"domain": [120, 415], "nice": false, "zero": false}, "axis": {"orient": "left", "labels": false, "ticks": false, "domain": false, "title": "(cells/ml)", "titleFontSize": 6, "titleBaseline": "middle", "titleX": -20.5, "titleY": 18}}}}
      ]},
      {"width": 77, "height": 36, "data": {"name": "h1"}, "transform": [{"filter": "datum.v === 'P'"}], "mark": {"type": "rect", "color": "#77a3ea"}, "encoding": {
        "x": {"field": "b0", "type": "quantitative", "scale": {"domain": [120, 415], "nice": false, "zero": false}, "axis": null}, "x2": {"field": "b1"},
        "y": {"field": "c", "type": "quantitative", "scale": {"domain": [0, 1030], "nice": false}, "axis": null}, "y2": {"datum": 0}}},
      {"width": 76, "height": 36, "data": {"name": "s1"}, "mark": "circle", "encoding": {
        "x": {"field": "m", "type": "quantitative", "scale": {"domain": [0.32, 4.27], "nice": false, "zero": false}, "axis": null},
        "y": {"field": "P", "type": "quantitative", "scale": {"domain": [120, 415], "nice": false, "zero": false}, "axis": null}}},
      {"width": 77, "height": 36, "data": {"name": "s1"}, "mark": "circle", "encoding": {
        "x": {"field": "a", "type": "quantitative", "scale": {"domain": [0.05, 2.66], "nice": false, "zero": false}, "axis": null},
        "y": {"field": "P", "type": "quantitative", "scale": {"domain": [120, 415], "nice": false, "zero": false}, "axis": null}}},

      {"width": 75, "height": 36, "data": {"name": "s1"}, "resolve": {"axis": {"y": "independent"}}, "layer": [
        {"mark": "circle", "encoding": {
          "x": {"field": "Q", "type": "quantitative", "scale": {"domain": [0.7, 2.38], "nice": false, "zero": false}, "axis": null},
          "y": {"field": "m", "type": "quantitative", "scale": {"domain": [0.32, 4.27], "nice": false, "zero": false}, "axis": {"orient": "left", "values": [1, 2, 3, 4], "format": "d", "labelFontSize": 6, "labelPadding": 2, "ticks": false, "domain": false, "title": "m", "titleFontSize": 10, "titleBaseline": "middle", "titleX": -31, "titleY": 18}}}},
        {"mark": {"type": "circle", "opacity": 0}, "encoding": {
          "x": {"field": "Q", "type": "quantitative", "scale": {"domain": [0.7, 2.38], "nice": false, "zero": false}, "axis": null},
          "y": {"field": "m", "type": "quantitative", "scale": {"domain": [0.32, 4.27], "nice": false, "zero": false}, "axis": {"orient": "left", "labels": false, "ticks": false, "domain": false, "title": "(1/days)", "titleFontSize": 6, "titleBaseline": "middle", "titleX": -20.5, "titleY": 18}}}}
      ]},
      {"width": 77, "height": 36, "data": {"name": "s1"}, "mark": "circle", "encoding": {
        "x": {"field": "P", "type": "quantitative", "scale": {"domain": [120, 415], "nice": false, "zero": false}, "axis": null},
        "y": {"field": "m", "type": "quantitative", "scale": {"domain": [0.32, 4.27], "nice": false, "zero": false}, "axis": null}}},
      {"width": 76, "height": 36, "data": {"name": "h1"}, "transform": [{"filter": "datum.v === 'm'"}], "mark": {"type": "rect", "color": "#77a3ea"}, "encoding": {
        "x": {"field": "b0", "type": "quantitative", "scale": {"domain": [0.32, 4.27], "nice": false, "zero": false}, "axis": null}, "x2": {"field": "b1"},
        "y": {"field": "c", "type": "quantitative", "scale": {"domain": [0, 1030], "nice": false}, "axis": null}, "y2": {"datum": 0}}},
      {"width": 77, "height": 36, "data": {"name": "s1"}, "mark": "circle", "encoding": {
        "x": {"field": "a", "type": "quantitative", "scale": {"domain": [0.05, 2.66], "nice": false, "zero": false}, "axis": null},
        "y": {"field": "m", "type": "quantitative", "scale": {"domain": [0.32, 4.27], "nice": false, "zero": false}, "axis": null}}},

      {"width": 75, "height": 37, "data": {"name": "s1"}, "resolve": {"axis": {"x": "independent", "y": "independent"}}, "layer": [
        {"mark": "circle", "encoding": {
          "x": {"field": "Q", "type": "quantitative", "scale": {"domain": [0.7, 2.38], "nice": false, "zero": false}, "axis": {"orient": "bottom", "values": [1, 1.5, 2], "format": ".2~f", "labelFontSize": 6, "labelPadding": 2, "ticks": false, "domain": false, "title": "Q", "titleFontSize": 10, "titleBaseline": "middle", "titleX": 37.5, "titleY": 11}},
          "y": {"field": "a", "type": "quantitative", "scale": {"domain": [0.05, 2.66], "nice": false, "zero": false}, "axis": {"orient": "left", "values": [0.5, 1, 1.5, 2, 2.5], "format": ".2~f", "labelFontSize": 6, "labelPadding": 2, "ticks": false, "domain": false, "title": "a", "titleFontSize": 10, "titleBaseline": "middle", "titleX": -31, "titleY": 18.5}}}},
        {"mark": {"type": "circle", "opacity": 0}, "encoding": {
          "x": {"field": "Q", "type": "quantitative", "scale": {"domain": [0.7, 2.38], "nice": false, "zero": false}, "axis": {"orient": "bottom", "labels": false, "ticks": false, "domain": false, "title": "(cells/ml)", "titleFontSize": 6, "titleBaseline": "middle", "titleX": 37.5, "titleY": 23.5}},
          "y": {"field": "a", "type": "quantitative", "scale": {"domain": [0.05, 2.66], "nice": false, "zero": false}, "axis": {"orient": "left", "labels": false, "ticks": false, "domain": false, "title": "(ml/(cells· days))", "titleFontSize": 6, "titleBaseline": "middle", "titleX": -20.5, "titleY": 18.5}}}},
        {"mark": {"type": "circle", "opacity": 0}, "encoding": {
          "x": {"field": "Q", "type": "quantitative", "scale": {"domain": [0.7, 2.38], "nice": false, "zero": false}, "axis": {"orient": "bottom", "labels": false, "ticks": false, "domain": false, "title": "×10⁵", "titleFontSize": 6, "titleAlign": "center", "titleBaseline": "middle", "titleX": 75, "titleY": 9}},
          "y": {"field": "a", "type": "quantitative", "scale": {"domain": [0.05, 2.66], "nice": false, "zero": false}, "axis": {"orient": "left", "labels": false, "ticks": false, "domain": false, "title": "×10⁻⁵", "titleFontSize": 6, "titleAngle": 0, "titleAlign": "left", "titleBaseline": "middle", "titleX": -1, "titleY": -3}}}}
      ]},
      {"width": 77, "height": 37, "data": {"name": "s1"}, "resolve": {"axis": {"x": "independent"}}, "layer": [
        {"mark": "circle", "encoding": {
          "x": {"field": "P", "type": "quantitative", "scale": {"domain": [120, 415], "nice": false, "zero": false}, "axis": {"orient": "bottom", "values": [200, 300, 400], "format": "d", "labelFontSize": 6, "labelPadding": 2, "ticks": false, "domain": false, "title": "P", "titleFontSize": 10, "titleBaseline": "middle", "titleX": 38.5, "titleY": 11}},
          "y": {"field": "a", "type": "quantitative", "scale": {"domain": [0.05, 2.66], "nice": false, "zero": false}, "axis": null}}},
        {"mark": {"type": "circle", "opacity": 0}, "encoding": {
          "x": {"field": "P", "type": "quantitative", "scale": {"domain": [120, 415], "nice": false, "zero": false}, "axis": {"orient": "bottom", "labels": false, "ticks": false, "domain": false, "title": "(cells/ml)", "titleFontSize": 6, "titleBaseline": "middle", "titleX": 38.5, "titleY": 23.5}},
          "y": {"field": "a", "type": "quantitative", "scale": {"domain": [0.05, 2.66], "nice": false, "zero": false}, "axis": null}}}
      ]},
      {"width": 76, "height": 37, "data": {"name": "s1"}, "resolve": {"axis": {"x": "independent"}}, "layer": [
        {"mark": "circle", "encoding": {
          "x": {"field": "m", "type": "quantitative", "scale": {"domain": [0.32, 4.27], "nice": false, "zero": false}, "axis": {"orient": "bottom", "values": [1, 2, 3, 4], "format": "d", "labelFontSize": 6, "labelPadding": 2, "ticks": false, "domain": false, "title": "m", "titleFontSize": 10, "titleBaseline": "middle", "titleX": 38, "titleY": 11}},
          "y": {"field": "a", "type": "quantitative", "scale": {"domain": [0.05, 2.66], "nice": false, "zero": false}, "axis": null}}},
        {"mark": {"type": "circle", "opacity": 0}, "encoding": {
          "x": {"field": "m", "type": "quantitative", "scale": {"domain": [0.32, 4.27], "nice": false, "zero": false}, "axis": {"orient": "bottom", "labels": false, "ticks": false, "domain": false, "title": "(1/days)", "titleFontSize": 6, "titleBaseline": "middle", "titleX": 38, "titleY": 23.5}},
          "y": {"field": "a", "type": "quantitative", "scale": {"domain": [0.05, 2.66], "nice": false, "zero": false}, "axis": null}}}
      ]},
      {"width": 77, "height": 37, "data": {"name": "h1"}, "transform": [{"filter": "datum.v === 'a'"}], "resolve": {"axis": {"x": "independent"}}, "layer": [
        {"mark": {"type": "rect", "color": "#77a3ea"}, "encoding": {
          "x": {"field": "b0", "type": "quantitative", "scale": {"domain": [0.05, 2.66], "nice": false, "zero": false}, "axis": {"orient": "bottom", "values": [0.5, 1, 1.5, 2, 2.5], "format": ".2~f", "labelFontSize": 6, "labelPadding": 2, "ticks": false, "domain": false, "title": "a", "titleFontSize": 10, "titleBaseline": "middle", "titleX": 38.5, "titleY": 11}}, "x2": {"field": "b1"},
          "y": {"field": "c", "type": "quantitative", "scale": {"domain": [0, 1030], "nice": false}, "axis": null}, "y2": {"datum": 0}}},
        {"mark": {"type": "rect", "opacity": 0}, "encoding": {
          "x": {"field": "b0", "type": "quantitative", "scale": {"domain": [0.05, 2.66], "nice": false, "zero": false}, "axis": {"orient": "bottom", "labels": false, "ticks": false, "domain": false, "title": "(ml/(cells· days))", "titleFontSize": 6, "titleBaseline": "middle", "titleX": 38.5, "titleY": 23.5}}, "x2": {"field": "b1"},
          "y": {"field": "c", "type": "quantitative", "scale": {"domain": [0, 1030], "nice": false}, "axis": null}, "y2": {"datum": 0}}},
        {"mark": {"type": "rect", "opacity": 0}, "encoding": {
          "x": {"field": "b0", "type": "quantitative", "scale": {"domain": [0.05, 2.66], "nice": false, "zero": false}, "axis": {"orient": "bottom", "labels": false, "ticks": false, "domain": false, "title": "×10⁻⁵", "titleFontSize": 6, "titleAlign": "right", "titleBaseline": "middle", "titleX": 77, "titleY": 10}}, "x2": {"field": "b1"},
          "y": {"field": "c", "type": "quantitative", "scale": {"domain": [0, 1030], "nice": false}, "axis": null}, "y2": {"datum": 0}}}
      ]}
    ]
   }
  ]
 },
 {
  "spacing": -5,
  "resolve": {"scale": {"color": "independent", "shape": "independent", "x": "independent", "y": "independent"}, "legend": {"color": "independent", "shape": "independent"}},
  "hconcat": [
   {
    "width": 306, "height": 146,
    "view": {"stroke": null},
    "resolve": {"axis": {"x": "independent", "y": "independent"}},
    "layer": [
     {"data": {"name": "band2"}, "mark": {"type": "area", "color": "#c3d6f6", "opacity": 0.45, "interpolate": "monotone"},
      "encoding": {
       "x": {"field": "t", "type": "quantitative", "scale": {"domain": [0, 19], "nice": false, "zero": false},
             "axis": {"values": [0,2,4,6,8,10,12,14,16,18], "format": "d", "labelFontSize": 7, "tickSize": 2, "tickColor": "#a0a0a0", "domainColor": "#bdbdbd", "labelPadding": 1, "title": "Time", "titleFontSize": 11.5, "titleBaseline": "middle", "titleX": 144, "titleY": 17.5}},
       "y": {"field": "lo2", "type": "quantitative", "scale": {"domain": [0, 207092], "nice": false},
             "axis": {"values": [0,50000,100000,150000,200000], "format": "d", "labelFontSize": 7, "tickSize": 3, "tickColor": "#a0a0a0", "domainColor": "#bdbdbd", "labelPadding": 2, "title": "Cell density", "titleFontSize": 11.5, "titleBaseline": "middle", "titleX": -34, "titleY": 87.5}},
       "y2": {"field": "hi2"}}},
     {"data": {"name": "band2"}, "mark": {"type": "area", "color": "#6a9be9", "interpolate": "monotone", "opacity": 1},
      "encoding": {
       "x": {"field": "t", "type": "quantitative", "scale": {"domain": [0, 19], "nice": false, "zero": false},
             "axis": {"orient": "bottom", "labels": false, "ticks": false, "domain": false, "title": "(days)", "titleFontSize": 5.5, "titleBaseline": "middle", "titleX": 168, "titleY": 19.5}},
       "y": {"field": "lo", "type": "quantitative", "scale": {"domain": [0, 207092], "nice": false},
             "axis": {"orient": "left", "labels": false, "ticks": false, "domain": false, "title": "(cells/ml)", "titleFontSize": 5.5, "titleBaseline": "middle", "titleX": -31.5, "titleY": 43.5}},
       "y2": {"field": "hi"}}},
     {"data": {"name": "map2"}, "mark": {"type": "line", "color": "#e2321f", "strokeWidth": 1.6, "interpolate": "monotone"},
      "encoding": {
       "x": {"field": "t", "type": "quantitative", "scale": {"domain": [0, 19], "nice": false, "zero": false}, "axis": null},
       "y": {"field": "y", "type": "quantitative", "scale": {"domain": [0, 207092], "nice": false}, "axis": null}}},
     {"data": {"name": "obs"}, "mark": {"type": "rule", "color": "#505050", "strokeWidth": 0.8},
      "encoding": {
       "x": {"field": "t", "type": "quantitative", "scale": {"domain": [0, 19], "nice": false, "zero": false}, "axis": null},
       "y": {"field": "lo", "type": "quantitative", "scale": {"domain": [0, 207092], "nice": false}, "axis": null},
       "y2": {"field": "hi"}}},
     {"data": {"name": "obs"}, "mark": {"type": "tick", "orient": "horizontal", "color": "#505050", "size": 5, "thickness": 0.8},
      "encoding": {
       "x": {"field": "t", "type": "quantitative", "scale": {"domain": [0, 19], "nice": false, "zero": false}, "axis": null},
       "y": {"field": "hi", "type": "quantitative", "scale": {"domain": [0, 207092], "nice": false}, "axis": null}}},
     {"data": {"name": "obs"}, "mark": {"type": "tick", "orient": "horizontal", "color": "#505050", "size": 5, "thickness": 0.8},
      "encoding": {
       "x": {"field": "t", "type": "quantitative", "scale": {"domain": [0, 19], "nice": false, "zero": false}, "axis": null},
       "y": {"field": "lo", "type": "quantitative", "scale": {"domain": [0, 207092], "nice": false}, "axis": null}}},
     {"data": {"name": "obs"}, "mark": {"type": "point", "shape": "square", "filled": true, "size": 18, "opacity": 1, "color": "#000000"},
      "encoding": {
       "x": {"field": "t", "type": "quantitative", "scale": {"domain": [0, 19], "nice": false, "zero": false}, "axis": null},
       "y": {"field": "y", "type": "quantitative", "scale": {"domain": [0, 207092], "nice": false}, "axis": null}}},
     {"data": {"name": "keys"}, "mark": {"type": "point", "filled": false, "opacity": 0, "strokeWidth": 2, "size": 400},
      "encoding": {
       "color": {"field": "s", "type": "nominal", "scale": {"domain": ["MCMC", "Data", "MAP"], "range": ["#78a4ee", "#000000", "#e2321f"]},
                 "legend": {"title": null, "orient": "none", "legendX": 6, "legendY": 5, "symbolSize": 400, "symbolStrokeWidth": 2, "symbolOpacity": 1,
                            "labelFontSize": 5.5, "labelColor": "#262626", "labelOffset": 3, "clipHeight": 8.7, "rowPadding": 0, "padding": 2.5,
                            "strokeColor": "#9a9a9a", "fillColor": "#ffffff"}},
       "shape": {"field": "s", "type": "nominal", "scale": {"domain": ["MCMC", "Data", "MAP"], "range": ["stroke", "M-0.12,-0.12H0.12V0.12H-0.12Z", "stroke"]},
                 "legend": {"title": null, "orient": "none", "legendX": 6, "legendY": 5, "symbolSize": 400, "symbolStrokeWidth": 2, "symbolOpacity": 1,
                            "labelFontSize": 5.5, "labelColor": "#262626", "labelOffset": 3, "clipHeight": 8.7, "rowPadding": 0, "padding": 2.5,
                            "strokeColor": "#9a9a9a", "fillColor": "#ffffff"}}}}
    ]
   },
   {
    "columns": 4, "bounds": "flush", "align": "each", "spacing": 0,
    "resolve": {"scale": {"x": "independent", "y": "independent"}},
    "concat": [
      {"width": 75, "height": 39, "data": {"name": "h2"}, "transform": [{"filter": "datum.v === 'Q'"}], "resolve": {"axis": {"y": "independent"}}, "layer": [
        {"mark": {"type": "rect", "color": "#77a3ea"}, "encoding": {"x": {"field": "b0", "type": "quantitative", "scale": {"domain": [0.69, 2.42], "nice": false, "zero": false}, "axis": null}, "x2": {"field": "b1"},
          "y": {"field": "c", "type": "quantitative", "scale": {"domain": [0, 2200], "nice": false}, "axis": {"orient": "left", "values": [0, 1000, 2000], "format": "d", "labelFontSize": 6, "labelPadding": 2, "ticks": false, "domain": false, "title": "Q", "titleFontSize": 10, "titleBaseline": "middle", "titleX": -31, "titleY": 19.5}}, "y2": {"datum": 0}}},
        {"mark": {"type": "rect", "opacity": 0}, "encoding": {"x": {"field": "b0", "type": "quantitative", "scale": {"domain": [0.69, 2.42], "nice": false, "zero": false}, "axis": null}, "x2": {"field": "b1"},
          "y": {"field": "c", "type": "quantitative", "scale": {"domain": [0, 2200], "nice": false}, "axis": {"orient": "left", "labels": false, "ticks": false, "domain": false, "title": "(cells/ml)", "titleFontSize": 6, "titleBaseline": "middle", "titleX": -20.5, "titleY": 19.5}}, "y2": {"datum": 0}}}
      ]},
      {"width": 77, "height": 39, "data": {"name": "s2"}, "mark": "circle", "encoding": {
        "x": {"field": "P", "type": "quantitative", "scale": {"domain": [105, 425], "nice": false, "zero": false}, "axis": null},
        "y": {"field": "Q", "type": "quantitative", "scale": {"domain": [0.69, 2.42], "nice": false, "zero": false}, "axis": null}}},
      {"width": 76, "height": 39, "data": {"name": "s2"}, "mark": "circle", "encoding": {
        "x": {"field": "m", "type": "quantitative", "scale": {"domain": [0.18, 4.15], "nice": false, "zero": false}, "axis": null},
        "y": {"field": "Q", "type": "quantitative", "scale": {"domain": [0.69, 2.42], "nice": false, "zero": false}, "axis": null}}},
      {"width": 77, "height": 39, "data": {"name": "s2"}, "mark": "circle", "encoding": {
        "x": {"field": "a", "type": "quantitative", "scale": {"domain": [0.06, 2.66], "nice": false, "zero": false}, "axis": null},
        "y": {"field": "Q", "type": "quantitative", "scale": {"domain": [0.69, 2.42], "nice": false, "zero": false}, "axis": null}}},

      {"width": 75, "height": 36, "data": {"name": "s2"}, "resolve": {"axis": {"y": "independent"}}, "layer": [
        {"mark": "circle", "encoding": {
          "x": {"field": "Q", "type": "quantitative", "scale": {"domain": [0.69, 2.42], "nice": false, "zero": false}, "axis": null},
          "y": {"field": "P", "type": "quantitative", "scale": {"domain": [105, 425], "nice": false, "zero": false}, "axis": {"orient": "left", "values": [200, 300, 400], "format": "d", "labelFontSize": 6, "labelPadding": 2, "ticks": false, "domain": false, "title": "P", "titleFontSize": 10, "titleBaseline": "middle", "titleX": -31, "titleY": 18}}}},
        {"mark": {"type": "circle", "opacity": 0}, "encoding": {
          "x": {"field": "Q", "type": "quantitative", "scale": {"domain": [0.69, 2.42], "nice": false, "zero": false}, "axis": null},
          "y": {"field": "P", "type": "quantitative", "scale": {"domain": [105, 425], "nice": false, "zero": false}, "axis": {"orient": "left", "labels": false, "ticks": false, "domain": false, "title": "(cells/ml)", "titleFontSize": 6, "titleBaseline": "middle", "titleX": -20.5, "titleY": 18}}}}
      ]},
      {"width": 77, "height": 36, "data": {"name": "h2"}, "transform": [{"filter": "datum.v === 'P'"}], "mark": {"type": "rect", "color": "#77a3ea"}, "encoding": {
        "x": {"field": "b0", "type": "quantitative", "scale": {"domain": [105, 425], "nice": false, "zero": false}, "axis": null}, "x2": {"field": "b1"},
        "y": {"field": "c", "type": "quantitative", "scale": {"domain": [0, 1030], "nice": false}, "axis": null}, "y2": {"datum": 0}}},
      {"width": 76, "height": 36, "data": {"name": "s2"}, "mark": "circle", "encoding": {
        "x": {"field": "m", "type": "quantitative", "scale": {"domain": [0.18, 4.15], "nice": false, "zero": false}, "axis": null},
        "y": {"field": "P", "type": "quantitative", "scale": {"domain": [105, 425], "nice": false, "zero": false}, "axis": null}}},
      {"width": 77, "height": 36, "data": {"name": "s2"}, "mark": "circle", "encoding": {
        "x": {"field": "a", "type": "quantitative", "scale": {"domain": [0.06, 2.66], "nice": false, "zero": false}, "axis": null},
        "y": {"field": "P", "type": "quantitative", "scale": {"domain": [105, 425], "nice": false, "zero": false}, "axis": null}}},

      {"width": 75, "height": 36, "data": {"name": "s2"}, "resolve": {"axis": {"y": "independent"}}, "layer": [
        {"mark": "circle", "encoding": {
          "x": {"field": "Q", "type": "quantitative", "scale": {"domain": [0.69, 2.42], "nice": false, "zero": false}, "axis": null},
          "y": {"field": "m", "type": "quantitative", "scale": {"domain": [0.18, 4.15], "nice": false, "zero": false}, "axis": {"orient": "left", "values": [1, 2, 3, 4], "format": "d", "labelFontSize": 6, "labelPadding": 2, "ticks": false, "domain": false, "title": "m", "titleFontSize": 10, "titleBaseline": "middle", "titleX": -31, "titleY": 18}}}},
        {"mark": {"type": "circle", "opacity": 0}, "encoding": {
          "x": {"field": "Q", "type": "quantitative", "scale": {"domain": [0.69, 2.42], "nice": false, "zero": false}, "axis": null},
          "y": {"field": "m", "type": "quantitative", "scale": {"domain": [0.18, 4.15], "nice": false, "zero": false}, "axis": {"orient": "left", "labels": false, "ticks": false, "domain": false, "title": "(1/days)", "titleFontSize": 6, "titleBaseline": "middle", "titleX": -20.5, "titleY": 18}}}}
      ]},
      {"width": 77, "height": 36, "data": {"name": "s2"}, "mark": "circle", "encoding": {
        "x": {"field": "P", "type": "quantitative", "scale": {"domain": [105, 425], "nice": false, "zero": false}, "axis": null},
        "y": {"field": "m", "type": "quantitative", "scale": {"domain": [0.18, 4.15], "nice": false, "zero": false}, "axis": null}}},
      {"width": 76, "height": 36, "data": {"name": "h2"}, "transform": [{"filter": "datum.v === 'm'"}], "mark": {"type": "rect", "color": "#77a3ea"}, "encoding": {
        "x": {"field": "b0", "type": "quantitative", "scale": {"domain": [0.18, 4.15], "nice": false, "zero": false}, "axis": null}, "x2": {"field": "b1"},
        "y": {"field": "c", "type": "quantitative", "scale": {"domain": [0, 1030], "nice": false}, "axis": null}, "y2": {"datum": 0}}},
      {"width": 77, "height": 36, "data": {"name": "s2"}, "mark": "circle", "encoding": {
        "x": {"field": "a", "type": "quantitative", "scale": {"domain": [0.06, 2.66], "nice": false, "zero": false}, "axis": null},
        "y": {"field": "m", "type": "quantitative", "scale": {"domain": [0.18, 4.15], "nice": false, "zero": false}, "axis": null}}},

      {"width": 75, "height": 36, "data": {"name": "s2"}, "resolve": {"axis": {"x": "independent", "y": "independent"}}, "layer": [
        {"mark": "circle", "encoding": {
          "x": {"field": "Q", "type": "quantitative", "scale": {"domain": [0.69, 2.42], "nice": false, "zero": false}, "axis": {"orient": "bottom", "values": [1, 1.5, 2], "format": ".2~f", "labelFontSize": 6, "labelPadding": 2, "ticks": false, "domain": false, "title": "Q", "titleFontSize": 10, "titleBaseline": "middle", "titleX": 37.5, "titleY": 11}},
          "y": {"field": "a", "type": "quantitative", "scale": {"domain": [0.06, 2.66], "nice": false, "zero": false}, "axis": {"orient": "left", "values": [0.5, 1, 1.5, 2, 2.5], "format": ".2~f", "labelFontSize": 6, "labelPadding": 2, "ticks": false, "domain": false, "title": "a", "titleFontSize": 10, "titleBaseline": "middle", "titleX": -31, "titleY": 18}}}},
        {"mark": {"type": "circle", "opacity": 0}, "encoding": {
          "x": {"field": "Q", "type": "quantitative", "scale": {"domain": [0.69, 2.42], "nice": false, "zero": false}, "axis": {"orient": "bottom", "labels": false, "ticks": false, "domain": false, "title": "(cells/ml)", "titleFontSize": 6, "titleBaseline": "middle", "titleX": 37.5, "titleY": 23.5}},
          "y": {"field": "a", "type": "quantitative", "scale": {"domain": [0.06, 2.66], "nice": false, "zero": false}, "axis": {"orient": "left", "labels": false, "ticks": false, "domain": false, "title": "(ml/(cells· days))", "titleFontSize": 6, "titleBaseline": "middle", "titleX": -20.5, "titleY": 18}}}},
        {"mark": {"type": "circle", "opacity": 0}, "encoding": {
          "x": {"field": "Q", "type": "quantitative", "scale": {"domain": [0.69, 2.42], "nice": false, "zero": false}, "axis": {"orient": "bottom", "labels": false, "ticks": false, "domain": false, "title": "×10⁵", "titleFontSize": 6, "titleAlign": "center", "titleBaseline": "middle", "titleX": 75, "titleY": 9}},
          "y": {"field": "a", "type": "quantitative", "scale": {"domain": [0.06, 2.66], "nice": false, "zero": false}, "axis": {"orient": "left", "labels": false, "ticks": false, "domain": false, "title": "×10⁻⁵", "titleFontSize": 6, "titleAngle": 0, "titleAlign": "left", "titleBaseline": "middle", "titleX": -1, "titleY": -3}}}}
      ]},
      {"width": 77, "height": 36, "data": {"name": "s2"}, "resolve": {"axis": {"x": "independent"}}, "layer": [
        {"mark": "circle", "encoding": {
          "x": {"field": "P", "type": "quantitative", "scale": {"domain": [105, 425], "nice": false, "zero": false}, "axis": {"orient": "bottom", "values": [200, 300, 400], "format": "d", "labelFontSize": 6, "labelPadding": 2, "ticks": false, "domain": false, "title": "P", "titleFontSize": 10, "titleBaseline": "middle", "titleX": 38.5, "titleY": 11}},
          "y": {"field": "a", "type": "quantitative", "scale": {"domain": [0.06, 2.66], "nice": false, "zero": false}, "axis": null}}},
        {"mark": {"type": "circle", "opacity": 0}, "encoding": {
          "x": {"field": "P", "type": "quantitative", "scale": {"domain": [105, 425], "nice": false, "zero": false}, "axis": {"orient": "bottom", "labels": false, "ticks": false, "domain": false, "title": "(cells/ml)", "titleFontSize": 6, "titleBaseline": "middle", "titleX": 38.5, "titleY": 23.5}},
          "y": {"field": "a", "type": "quantitative", "scale": {"domain": [0.06, 2.66], "nice": false, "zero": false}, "axis": null}}}
      ]},
      {"width": 76, "height": 36, "data": {"name": "s2"}, "resolve": {"axis": {"x": "independent"}}, "layer": [
        {"mark": "circle", "encoding": {
          "x": {"field": "m", "type": "quantitative", "scale": {"domain": [0.18, 4.15], "nice": false, "zero": false}, "axis": {"orient": "bottom", "values": [1, 2, 3, 4], "format": "d", "labelFontSize": 6, "labelPadding": 2, "ticks": false, "domain": false, "title": "m", "titleFontSize": 10, "titleBaseline": "middle", "titleX": 38, "titleY": 11}},
          "y": {"field": "a", "type": "quantitative", "scale": {"domain": [0.06, 2.66], "nice": false, "zero": false}, "axis": null}}},
        {"mark": {"type": "circle", "opacity": 0}, "encoding": {
          "x": {"field": "m", "type": "quantitative", "scale": {"domain": [0.18, 4.15], "nice": false, "zero": false}, "axis": {"orient": "bottom", "labels": false, "ticks": false, "domain": false, "title": "(1/days)", "titleFontSize": 6, "titleBaseline": "middle", "titleX": 38, "titleY": 23.5}},
          "y": {"field": "a", "type": "quantitative", "scale": {"domain": [0.06, 2.66], "nice": false, "zero": false}, "axis": null}}}
      ]},
      {"width": 77, "height": 36, "data": {"name": "h2"}, "transform": [{"filter": "datum.v === 'a'"}], "resolve": {"axis": {"x": "independent"}}, "layer": [
        {"mark": {"type": "rect", "color": "#77a3ea"}, "encoding": {
          "x": {"field": "b0", "type": "quantitative", "scale": {"domain": [0.06, 2.66], "nice": false, "zero": false}, "axis": {"orient": "bottom", "values": [0.5, 1, 1.5, 2, 2.5], "format": ".2~f", "labelFontSize": 6, "labelPadding": 2, "ticks": false, "domain": false, "title": "a", "titleFontSize": 10, "titleBaseline": "middle", "titleX": 38.5, "titleY": 11}}, "x2": {"field": "b1"},
          "y": {"field": "c", "type": "quantitative", "scale": {"domain": [0, 1030], "nice": false}, "axis": null}, "y2": {"datum": 0}}},
        {"mark": {"type": "rect", "opacity": 0}, "encoding": {
          "x": {"field": "b0", "type": "quantitative", "scale": {"domain": [0.06, 2.66], "nice": false, "zero": false}, "axis": {"orient": "bottom", "labels": false, "ticks": false, "domain": false, "title": "(ml/(cells· days))", "titleFontSize": 6, "titleBaseline": "middle", "titleX": 38.5, "titleY": 23.5}}, "x2": {"field": "b1"},
          "y": {"field": "c", "type": "quantitative", "scale": {"domain": [0, 1030], "nice": false}, "axis": null}, "y2": {"datum": 0}}},
        {"mark": {"type": "rect", "opacity": 0}, "encoding": {
          "x": {"field": "b0", "type": "quantitative", "scale": {"domain": [0.06, 2.66], "nice": false, "zero": false}, "axis": {"orient": "bottom", "labels": false, "ticks": false, "domain": false, "title": "×10⁻⁵", "titleFontSize": 6, "titleAlign": "right", "titleBaseline": "middle", "titleX": 77, "titleY": 10}}, "x2": {"field": "b1"},
          "y": {"field": "c", "type": "quantitative", "scale": {"domain": [0, 1030], "nice": false}, "axis": null}, "y2": {"datum": 0}}}
      ]}
    ]
   }
  ]
 }
]
}
